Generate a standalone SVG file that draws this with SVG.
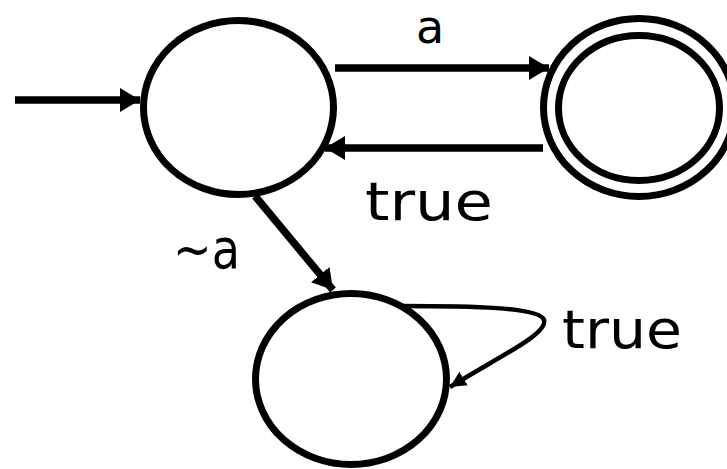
<svg xmlns="http://www.w3.org/2000/svg" width="727" height="469" viewBox="0 0 727 469">
<style>
.st{fill:none;stroke:#000;stroke-width:7}
.ed{fill:none;stroke:#000;stroke-width:7.5}
.lp{fill:none;stroke:#000;stroke-width:4.5}
.lb{font-family:"DejaVu Sans","Liberation Sans",sans-serif;fill:#000}
</style>
<defs>
<marker id="ah" markerUnits="userSpaceOnUse" markerWidth="24" markerHeight="26" refX="20" refY="12" orient="auto">
<polygon points="0,0 20,12 0,24" fill="#000"/>
</marker>
<marker id="ahs" markerUnits="userSpaceOnUse" markerWidth="18" markerHeight="16" refX="16" refY="8" orient="auto">
<polygon points="0,0 16,8 0,16" fill="#000"/>
</marker>
</defs>
<rect width="727" height="469" fill="#fff"/>
<g id="q0"><ellipse class="st" cx="238.5" cy="107.5" rx="95" ry="87"/></g>
<g id="q1"><ellipse class="st" cx="639" cy="107.5" rx="95.5" ry="89"/><ellipse class="st" cx="639" cy="108" rx="80.5" ry="72.5"/></g>
<g id="q2"><ellipse class="st" cx="351" cy="379" rx="95.5" ry="85.5"/></g>
<g id="connectors">
<line class="ed" x1="15" y1="100" x2="140" y2="100" marker-end="url(#ah)"/>
<line class="ed" x1="335" y1="68" x2="549" y2="68" marker-end="url(#ah)"/>
<line class="ed" x1="543" y1="148" x2="325" y2="148" marker-end="url(#ah)"/>
<line class="ed" x1="255" y1="196" x2="333" y2="290" marker-end="url(#ah)"/>
<path class="lp" d="M400 306 C470 306 540 307 544 320 C548 334 500 356 450 387" marker-end="url(#ahs)"/>
</g>
<g id="labels">
<text class="lb" x="430" y="43" font-size="46" text-anchor="middle">a</text>
<text class="lb" x="365" y="220" font-size="53" textLength="128" lengthAdjust="spacingAndGlyphs">true</text>
<text class="lb" x="173" y="268" font-size="56" textLength="67" lengthAdjust="spacingAndGlyphs">~a</text>
<text class="lb" x="562" y="348" font-size="53" textLength="120" lengthAdjust="spacingAndGlyphs">true</text>
</g>
</svg>
